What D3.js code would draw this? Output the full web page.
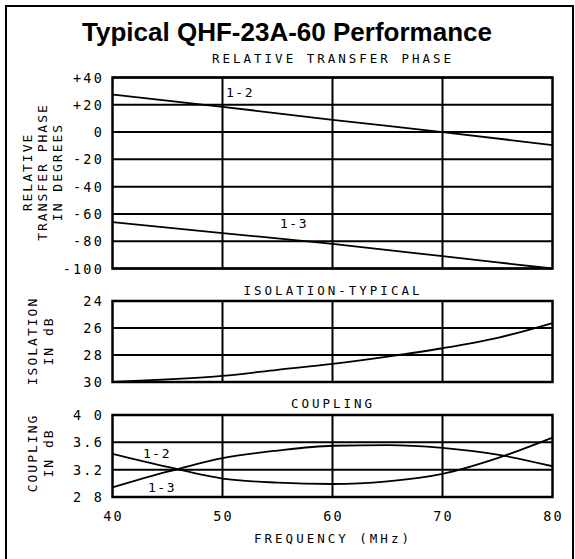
<!DOCTYPE html>
<html><head><meta charset="utf-8">
<script src="https://cdn.jsdelivr.net/npm/d3@7/dist/d3.min.js"></script>
<style>body{margin:0;background:#fff}svg{display:block}</style>
</head><body>
<script>
const freq = [40,50,60,70,80];
const freqFine = [40,45,50,55,60,65,70,75,80];
const phase12 = [27.5,18.5,9,0,-9.5];
const phase13 = [-66,-74,-82,-91,-100];
const isolation = [30,29.8,29.54,29.1,28.66,28.12,27.5,26.73,25.63];
const coupling12 = [3.43,3.24,3.07,3.01,2.99,3.03,3.14,3.37,3.67];
const coupling13 = [2.94,3.17,3.37,3.48,3.55,3.56,3.52,3.42,3.25];
const phaseTicks = [40,20,0,-20,-40,-60,-80,-100];
const phaseTickLabels = ["+40","+20","0","-20","-40","-60","-80","-100"];
const isoTicks = [24,26,28,30];
const coupTicks = [4.0,3.6,3.2,2.8];
const coupTickLabels = ["4 0","3.6","3.2","2 8"];

const W=575,H=559;
const svg=d3.select("body").append("svg").attr("width",W).attr("height",H);
const mono="'DejaVu Sans Mono', monospace";
svg.append("rect").attr("x",6).attr("y",6).attr("width",567).attr("height",570)
  .attr("fill","none").attr("stroke","#000").attr("stroke-width",2);
svg.append("text").attr("x",287).attr("y",41).attr("text-anchor","middle")
  .attr("font-family","'Liberation Sans', Arial, sans-serif").attr("font-weight","bold")
  .attr("font-size",26).text("Typical QHF-23A-60 Performance");

const x=d3.scaleLinear().domain([40,80]).range([112.5,552.5]);

function panel(y, ticks, labels, title, titleY, ylab, ylabY, ylabX){
  const g=svg.append("g");
  ticks.forEach((t,i)=>{
    g.append("line").attr("x1",x(40)).attr("x2",x(80)).attr("y1",y(t)).attr("y2",y(t))
      .attr("stroke","#000").attr("stroke-width",2);
    g.append("text").attr("x",104).attr("y",y(t)+5).attr("text-anchor","end")
      .attr("font-family",mono).attr("font-size",13.5).attr("letter-spacing",2.2).text(labels[i]);
  });
  [50,60,70].forEach(f=>{
    g.append("line").attr("x1",x(f)).attr("x2",x(f)).attr("y1",y.range()[0]).attr("y2",y.range()[1])
      .attr("stroke","#000").attr("stroke-width",2);
  });
  g.append("rect").attr("x",x(40)).attr("y",y.range()[0]).attr("width",x(80)-x(40))
    .attr("height",y.range()[1]-y.range()[0]).attr("fill","none").attr("stroke","#000").attr("stroke-width",2.5);
  g.append("text").attr("x",333).attr("y",titleY).attr("text-anchor","middle")
    .attr("font-family",mono).attr("font-size",12.5).attr("letter-spacing",3).text(title);
  ylab.forEach((s,i)=>{
    g.append("text").attr("transform",`translate(${ylabX[i]},${ylabY}) rotate(-90)`)
      .attr("text-anchor","middle").attr("font-family",mono).attr("font-size",13)
      .attr("letter-spacing",2).text(s);
  });
  return g;
}
function curve(g,xs,ys,y){
  g.append("path").datum(xs.map((f,i)=>[f,ys[i]]))
    .attr("d",d3.line().x(d=>x(d[0])).y(d=>y(d[1])).curve(d3.curveMonotoneX))
    .attr("fill","none").attr("stroke","#000").attr("stroke-width",1.8);
}
function lab(g,px,py,t){
  g.append("text").attr("x",px).attr("y",py).attr("font-family",mono).attr("font-size",13)
    .attr("letter-spacing",1.5).text(t);
}

const yP=d3.scaleLinear().domain([40,-100]).range([77.5,268.5]);
const gP=panel(yP,phaseTicks,phaseTickLabels,"RELATIVE TRANSFER PHASE",63,
  ["RELATIVE","TRANSFER PHASE","IN DEGREES"],172,[32,47,62]);
curve(gP,freq,phase12,yP); curve(gP,freq,phase13,yP);
lab(gP,226,97,"1-2"); lab(gP,280,228,"1-3");

const yI=d3.scaleLinear().domain([24,30]).range([301,382]);
const gI=panel(yI,isoTicks,isoTicks.map(String),"ISOLATION-TYPICAL",295,
  ["ISOLATION","IN dB"],341,[37,53]);
curve(gI,freqFine,isolation,yI);

const yC=d3.scaleLinear().domain([4.0,2.8]).range([415,497]);
const gC=panel(yC,coupTicks,coupTickLabels,"COUPLING",408,
  ["COUPLING","IN dB"],453,[37,53]);
curve(gC,freqFine,coupling12,yC); curve(gC,freqFine,coupling13,yC);
lab(gC,143,458,"1-2"); lab(gC,148,492,"1-3");

freq.forEach(f=>{
  svg.append("text").attr("x",x(f)+1).attr("y",521).attr("text-anchor","middle")
    .attr("font-family",mono).attr("font-size",13.5).attr("letter-spacing",2.2).text(String(f));
});
svg.append("text").attr("x",333).attr("y",543).attr("text-anchor","middle")
  .attr("font-family",mono).attr("font-size",12.5).attr("letter-spacing",3).text("FREQUENCY (MHz)");
</script>
</body></html>
